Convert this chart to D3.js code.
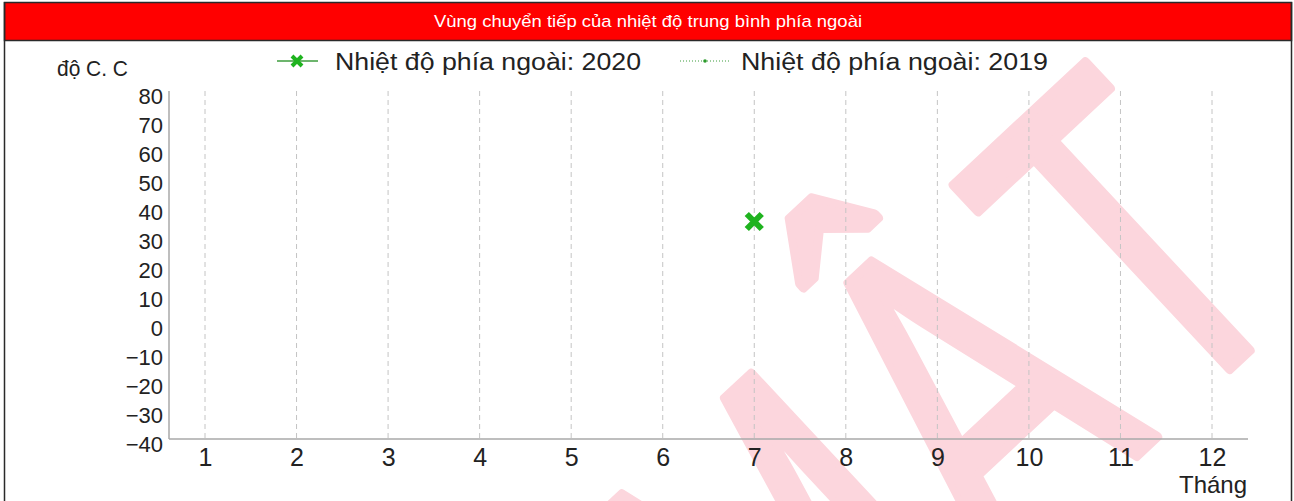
<!DOCTYPE html>
<html><head><meta charset="utf-8">
<script src="https://cdn.jsdelivr.net/npm/d3@7"></script>
<style>
html,body{margin:0;padding:0;background:#fff;}
svg{display:block;font-family:"Liberation Sans",Arial,sans-serif;}
</style></head>
<body>
<svg id="chart" width="1294" height="501"></svg>
<script>
const title = "Vùng chuyển tiếp của nhiệt độ trung bình phía ngoài";
const yAxisTitle = "độ C. C";
const xAxisTitle = "Tháng";
const months = [1,2,3,4,5,6,7,8,9,10,11,12];
const yTicks = [80,70,60,50,40,30,20,10,0,-10,-20,-30,-40];
const seriesNames = ["Nhiệt độ phía ngoài: 2020", "Nhiệt độ phía ngoài: 2019"];
const values2020 = [null,null,null,null,null,null,35,null,null,null,null,null];
const values2019 = [null,null,null,null,null,null,null,null,null,null,null,null];
const watermark = "MẬT";

const svg = d3.select("#chart");
const W = 1294, H = 501;

const x = d3.scaleLinear().domain([1,12]).range([205,1212]);
const y = d3.scaleLinear().domain([-40,80]).range([439,91]);
const plotLeft = 169, plotRight = 1248, plotTop = 91, plotBottom = 439;

svg.append("rect").attr("x",0).attr("y",0).attr("width",W).attr("height",H).attr("fill","#fff");

svg.append("defs").append("clipPath").attr("id","inner")
  .append("rect").attr("x",5).attr("y",41).attr("width",1286).attr("height",H-41);

// watermark (rotated, horizontally condensed text)
svg.append("g").attr("clip-path","url(#inner)")
  .append("g").attr("transform","rotate(-43) scale(0.69,1)")
  .append("text")
  .attr("x",76.8).attr("y",1108.5)
  .attr("font-size",469)
  .style("letter-spacing","17.5px")
  .style("font-kerning","none")
  .attr("fill","#fcd6dd")
  .attr("stroke","#fcd6dd")
  .attr("stroke-width",10)
  .attr("stroke-linejoin","round")
  .text(watermark);

// gridlines
svg.append("g").selectAll("line").data(months).join("line")
  .attr("x1",d=>x(d)).attr("x2",d=>x(d))
  .attr("y1",plotTop).attr("y2",plotBottom)
  .attr("stroke","#c4c4c4").attr("stroke-width",1)
  .attr("stroke-dasharray","5,4");

// axes
const yAxis = svg.append("g").attr("transform",`translate(${plotLeft},0)`)
  .call(d3.axisLeft(y).tickValues(yTicks).tickSize(0).tickPadding(6));
yAxis.select(".domain").remove();
yAxis.selectAll("text").attr("font-size",22).attr("font-family","Liberation Sans, Arial, sans-serif")
  .attr("fill","#222").attr("dy","0.55em");

const xAxis = svg.append("g").attr("transform",`translate(0,${plotBottom})`)
  .call(d3.axisBottom(x).tickValues(months).tickFormat(d3.format("d")).tickSize(0));
xAxis.select(".domain").remove();
xAxis.selectAll("text").attr("font-size",25).attr("font-family","Liberation Sans, Arial, sans-serif")
  .attr("fill","#222").attr("y",27).attr("dy",0);

svg.append("line").attr("x1",plotLeft).attr("x2",plotLeft).attr("y1",plotTop).attr("y2",plotBottom)
  .attr("stroke","#a8a8a8").attr("stroke-width",1.5);
svg.append("line").attr("x1",plotLeft).attr("x2",plotRight).attr("y1",plotBottom).attr("y2",plotBottom)
  .attr("stroke","#a8a8a8").attr("stroke-width",1.5);

// axis titles
svg.append("text").attr("x",57).attr("y",76).attr("font-size",22).attr("fill","#222")
  .attr("textLength",71).attr("lengthAdjust","spacingAndGlyphs").text(yAxisTitle);
svg.append("text").attr("x",1213).attr("y",493).attr("text-anchor","middle").attr("font-size",24).attr("fill","#222")
  .text(xAxisTitle);

function xPath(s){ return `M${-s},${-s}L${s},${s}M${-s},${s}L${s},${-s}`; }

const line = d3.line().defined(d=>d.v!=null).x(d=>x(d.m)).y(d=>y(d.v));

// series 2020
const pts2020 = months.map((m,i)=>({m, v: values2020[i]})).filter(d=>d.v!=null);
svg.append("path").datum(months.map((m,i)=>({m,v:values2020[i]})))
  .attr("d",line).attr("fill","none").attr("stroke","#3c9c3c").attr("stroke-width",1.5);
svg.append("g").selectAll("path").data(pts2020).join("path")
  .attr("transform",d=>`translate(${x(d.m)},${y(d.v)})`)
  .attr("d",xPath(7.5)).attr("stroke","#1fb31f").attr("stroke-width",6).attr("fill","none");

// series 2019
const pts2019 = months.map((m,i)=>({m, v: values2019[i]})).filter(d=>d.v!=null);
svg.append("path").datum(months.map((m,i)=>({m,v:values2019[i]})))
  .attr("d",line).attr("fill","none").attr("stroke","#3c9c3c").attr("stroke-width",1).attr("stroke-dasharray","1,2");
svg.append("g").selectAll("circle").data(pts2019).join("circle")
  .attr("cx",d=>x(d.m)).attr("cy",d=>y(d.v)).attr("r",2).attr("fill","#2a9a2a");

// legend
const lg = svg.append("g");
lg.append("line").attr("x1",277).attr("x2",318).attr("y1",61).attr("y2",61).attr("stroke","#3c9c3c").attr("stroke-width",1.5);
lg.append("path").attr("transform","translate(297,61)").attr("d",xPath(5)).attr("stroke","#1fb31f").attr("stroke-width",4).attr("fill","none");
lg.append("text").attr("x",335).attr("y",70).attr("font-size",23).attr("fill","#222")
  .attr("textLength",306).attr("lengthAdjust","spacingAndGlyphs").text(seriesNames[0]);
lg.append("line").attr("x1",680).attr("x2",730).attr("y1",61).attr("y2",61).attr("stroke","#3c9c3c").attr("stroke-width",1).attr("stroke-dasharray","1,2");
lg.append("circle").attr("cx",705).attr("cy",61).attr("r",1.8).attr("fill","#2a9a2a");
lg.append("text").attr("x",741).attr("y",70).attr("font-size",23).attr("fill","#222")
  .attr("textLength",307).attr("lengthAdjust","spacingAndGlyphs").text(seriesNames[1]);

// title bar
svg.append("rect").attr("x",4.5).attr("y",2.5).attr("width",1287).attr("height",38).attr("fill","#ff0000")
  .attr("stroke","#2a2a2a").attr("stroke-width",1.5);
svg.append("text").attr("x",434).attr("y",27).attr("font-size",17).attr("fill","#fff")
  .attr("textLength",428).attr("lengthAdjust","spacingAndGlyphs").text(title);

// frame sides
svg.append("line").attr("x1",4.5).attr("x2",4.5).attr("y1",2).attr("y2",H).attr("stroke","#2a2a2a").attr("stroke-width",1.5);
svg.append("line").attr("x1",1291.5).attr("x2",1291.5).attr("y1",2).attr("y2",H).attr("stroke","#2a2a2a").attr("stroke-width",1.5);
</script>
</body></html>
